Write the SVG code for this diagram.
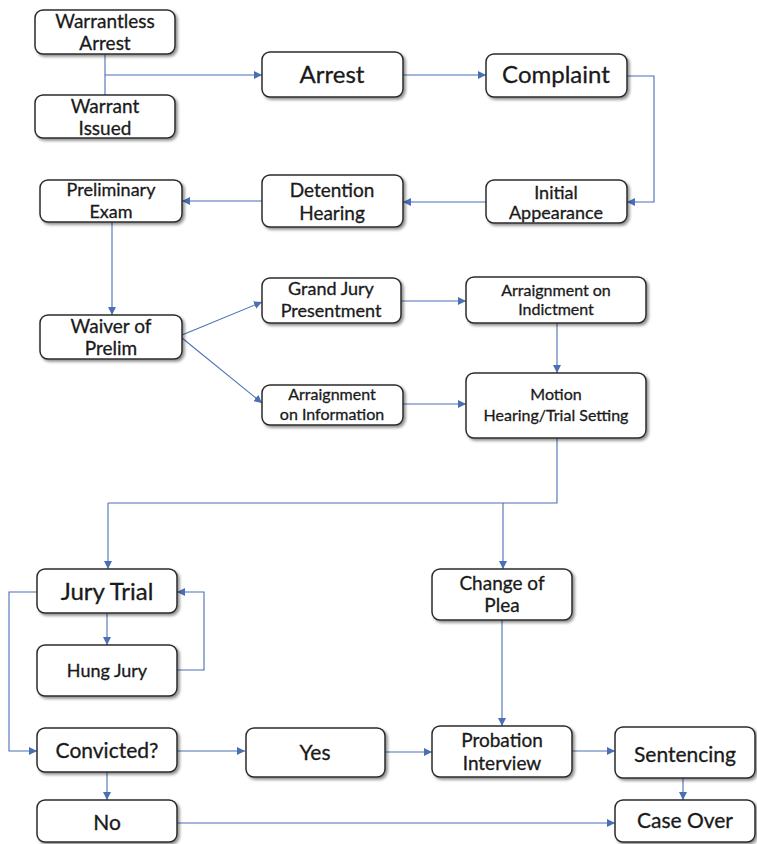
<svg xmlns="http://www.w3.org/2000/svg" width="757" height="844" viewBox="0 0 757 844">
<defs>
<marker id="ah" viewBox="0 0 10 10" refX="10" refY="5" markerWidth="8" markerHeight="8" markerUnits="userSpaceOnUse" orient="auto">
<path d="M0,0 L10,5 L0,10 z" fill="#4a6fb5"/>
</marker>
<filter id="sh" x="-10%" y="-10%" width="125%" height="130%">
<feGaussianBlur in="SourceAlpha" stdDeviation="1.5"/>
<feOffset dx="2" dy="2" result="b"/>
<feComponentTransfer><feFuncA type="linear" slope="0.45"/></feComponentTransfer>
<feMerge><feMergeNode/><feMergeNode in="SourceGraphic"/></feMerge>
</filter>
</defs>
<style>
.box{fill:#fff;stroke:#2b2b2b;stroke-width:1.5;filter:url(#sh)}
text{font-family:Lato,"Open Sans","Liberation Sans",sans-serif;fill:#1a1a1a;stroke:#1a1a1a;stroke-width:0.3;text-anchor:middle}
.s16{font-size:16px}.s17{font-size:17px}.s18{font-size:18px}.s19{font-size:19px}.s20{font-size:20px}.s21{font-size:21px}.s23{font-size:23px}.s24{font-size:24px}
.c{fill:none;stroke:#4a6fb5;stroke-width:1.1}
.a{marker-end:url(#ah)}
</style>
<rect width="757" height="844" fill="#fff"/>
<g id="connectors">
<path class="c" d="M105,54 V95"/>
<path class="c a" d="M105,75 H262"/>
<path class="c a" d="M403,75 H486"/>
<path class="c a" d="M627,76 H654 V202 H627"/>
<path class="c a" d="M486,202 H403"/>
<path class="c a" d="M262,201 H182"/>
<path class="c a" d="M112,222 V315"/>
<path class="c a" d="M182,335 L262,302"/>
<path class="c a" d="M182,338 L262,403"/>
<path class="c a" d="M401,301 H466"/>
<path class="c a" d="M557,323 V373"/>
<path class="c a" d="M403,404 H466"/>
<path class="c" d="M557,438 V503 H108"/>
<path class="c a" d="M108,503 V569"/>
<path class="c a" d="M503,503 V569"/>
<path class="c a" d="M107,613 V645"/>
<path class="c a" d="M177,670 H204 V592 H177"/>
<path class="c a" d="M37,592 H9 V751 H37"/>
<path class="c a" d="M177,751 H245"/>
<path class="c a" d="M107,772 V800"/>
<path class="c a" d="M177,823 H615"/>
<path class="c a" d="M502,620 V726"/>
<path class="c a" d="M385,752 H432"/>
<path class="c a" d="M572,751 H615"/>
<path class="c a" d="M683,778 V800"/>
</g>
<g id="warrantless"><rect class="box" x="35" y="10" width="140" height="44" rx="8"/><text class="s19" x="105" y="28">Warrantless</text><text class="s19" x="105" y="50">Arrest</text></g>
<g id="warrant"><rect class="box" x="35" y="95" width="140" height="43" rx="8"/><text class="s19" x="105" y="113">Warrant</text><text class="s19" x="105" y="135">Issued</text></g>
<g id="arrest"><rect class="box" x="262" y="52" width="141" height="45" rx="8"/><text class="s24" x="332" y="83">Arrest</text></g>
<g id="complaint"><rect class="box" x="486" y="54" width="141" height="43" rx="8"/><text class="s24" x="556" y="83">Complaint</text></g>
<g id="initial"><rect class="box" x="486" y="180" width="141" height="43" rx="8"/><text class="s18" x="556" y="199">Initial</text><text class="s18" x="556" y="219">Appearance</text></g>
<g id="detention"><rect class="box" x="262" y="175" width="141" height="52" rx="8"/><text class="s19" x="332" y="197">Detention</text><text class="s19" x="332" y="220">Hearing</text></g>
<g id="prelim"><rect class="box" x="40" y="180" width="142" height="42" rx="8"/><text class="s18" x="111" y="196">Preliminary</text><text class="s18" x="111" y="218">Exam</text></g>
<g id="waiver"><rect class="box" x="40" y="315" width="142" height="44" rx="8"/><text class="s19" x="111" y="333">Waiver of</text><text class="s19" x="111" y="355">Prelim</text></g>
<g id="grandjury"><rect class="box" x="262" y="278" width="139" height="45" rx="8"/><text class="s18" x="331" y="295">Grand Jury</text><text class="s18" x="331" y="317">Presentment</text></g>
<g id="aoinfo"><rect class="box" x="262" y="385" width="141" height="40" rx="8"/><text class="s16" x="332" y="400">Arraignment</text><text class="s16" x="332" y="420">on Information</text></g>
<g id="aoindict"><rect class="box" x="466" y="277" width="180" height="46" rx="8"/><text class="s16" x="556" y="296">Arraignment on</text><text class="s16" x="556" y="315">Indictment</text></g>
<g id="motion"><rect class="box" x="466" y="373" width="180" height="65" rx="8"/><text class="s16" x="556" y="400">Motion</text><text class="s16" x="556" y="421">Hearing/Trial Setting</text></g>
<g id="jurytrial"><rect class="box" x="37" y="569" width="140" height="44" rx="8"/><text class="s24" x="107" y="600">Jury Trial</text></g>
<g id="hungjury"><rect class="box" x="37" y="645" width="140" height="51" rx="8"/><text class="s18" x="107" y="677">Hung Jury</text></g>
<g id="convicted"><rect class="box" x="37" y="728" width="140" height="44" rx="8"/><text class="s21" x="107" y="758">Convicted?</text></g>
<g id="yes"><rect class="box" x="246" y="728" width="139" height="49" rx="8"/><text class="s21" x="315" y="760">Yes</text></g>
<g id="no"><rect class="box" x="37" y="800" width="140" height="42" rx="8"/><text class="s21" x="107" y="830">No</text></g>
<g id="changeplea"><rect class="box" x="432" y="569" width="140" height="51" rx="8"/><text class="s19" x="502" y="590">Change of</text><text class="s19" x="502" y="612">Plea</text></g>
<g id="probation"><rect class="box" x="432" y="726" width="140" height="51" rx="8"/><text class="s19" x="502" y="747">Probation</text><text class="s19" x="502" y="770">Interview</text></g>
<g id="sentencing"><rect class="box" x="615" y="727" width="140" height="51" rx="8"/><text class="s21" x="685" y="762">Sentencing</text></g>
<g id="caseover"><rect class="box" x="615" y="800" width="140" height="42" rx="8"/><text class="s21" x="685" y="828">Case Over</text></g>
</svg>
